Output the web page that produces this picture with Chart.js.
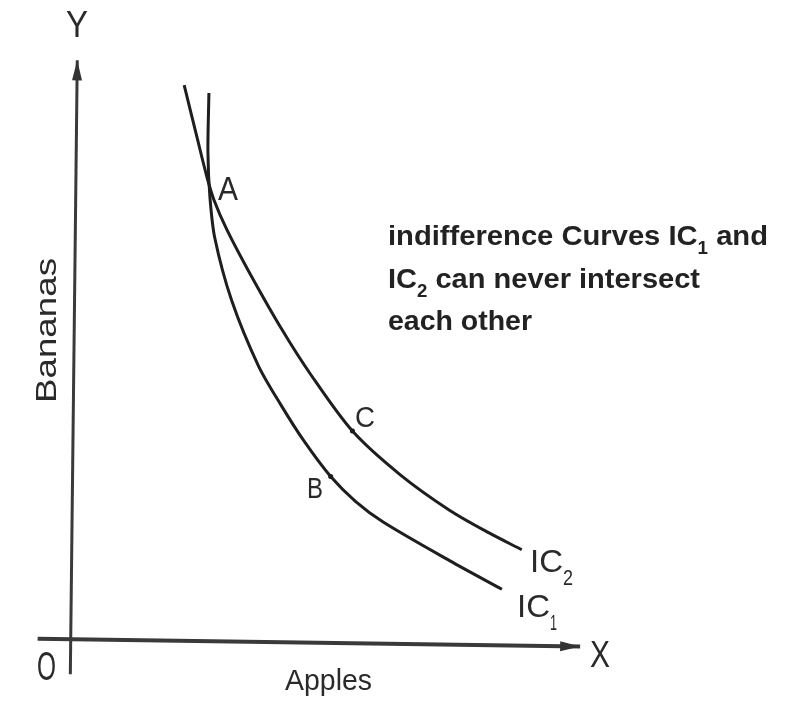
<!DOCTYPE html>
<html>
<head>
<meta charset="utf-8">
<script src="https://cdn.jsdelivr.net/npm/chart.js@4.4.1/dist/chart.umd.min.js"></script>
<style>
  body { margin: 0; background: #fff; }
  #wrap { width: 795px; height: 703px; position: relative; }
</style>
</head>
<body>
<div id="wrap"><canvas id="chart"></canvas></div>
<script>
// Coordenadas (origem em O, y para cima)
const ic1X = [139, 138, 140, 145, 162, 189, 212, 235, 262, 287, 315, 382, 435];
const ic1Y = [555, 495, 450, 408, 345, 279, 239, 203, 167, 142, 121, 82, 53];
const ic2X = [114, 127, 137, 144, 157, 179, 212, 242, 284, 332, 382, 422, 455];
const ic2Y = [563, 510, 470, 447, 417, 375, 317, 270, 213, 169, 133, 110, 93];

// Pontos marcados B e C
const pointX = [262, 284];
const pointY = [167, 213];

// Eixos (inicio e fim)
const xAxisX = [-34, 514];
const xAxisY = [3, -5];
const yAxisX = [-1, 6];
const yAxisY = [-33, 588];

const toXY = (xs, ys) => xs.map((x, i) => ({ x: x, y: ys[i] }));

function fitText(ctx, text, left, baseline, size, width, weight) {
  ctx.save();
  ctx.font = (weight || 'normal') + ' ' + size + 'px "Liberation Sans", Arial, sans-serif';
  const w = ctx.measureText(text).width;
  ctx.translate(left, baseline);
  ctx.scale(width / w, 1);
  ctx.textAlign = 'left';
  ctx.textBaseline = 'alphabetic';
  ctx.fillText(text, 0, 0);
  ctx.restore();
}

function arrowHead(ctx, from, to, len, half) {
  const ang = Math.atan2(to.y - from.y, to.x - from.x);
  ctx.save();
  ctx.translate(to.x, to.y);
  ctx.rotate(ang);
  ctx.beginPath();
  ctx.moveTo(0, 0);
  ctx.lineTo(-len, -half);
  ctx.lineTo(-len, half);
  ctx.closePath();
  ctx.fill();
  ctx.restore();
}

const labelsPlugin = {
  id: 'labels',
  afterDatasetsDraw(chart) {
    const ctx = chart.ctx;

    // pontas de seta nos eixos
    const xs = chart.getDatasetMeta(0).data;
    const ys = chart.getDatasetMeta(1).data;
    ctx.fillStyle = '#333';
    arrowHead(ctx, xs[0], xs[1], 20, 5);
    arrowHead(ctx, ys[0], ys[1], 20, 5);

    ctx.fillStyle = '#2a2a2a';
    // letras dos eixos
    fitText(ctx, 'Y', 66, 37, 37, 22);
    fitText(ctx, 'X', 590, 667, 37, 20);
    fitText(ctx, 'O', 37, 680, 40, 19);
    fitText(ctx, 'Apples', 285, 690, 30, 87);

    ctx.save();
    ctx.translate(56, 403);
    ctx.rotate(-Math.PI / 2);
    fitText(ctx, 'Bananas', 0, 0, 30, 145);
    ctx.restore();

    // nomes dos pontos
    fitText(ctx, 'A', 218, 200, 34, 20);
    fitText(ctx, 'B', 307, 498, 29, 16);
    fitText(ctx, 'C', 355, 427, 30, 20);

    // nomes das curvas
    fitText(ctx, 'IC', 530, 572, 32, 33);
    fitText(ctx, '2', 563, 585, 22, 10);
    fitText(ctx, 'IC', 517, 617, 32, 33);
    fitText(ctx, '1', 550, 630, 22, 7);

    // texto explicativo
    ctx.fillStyle = '#222';
    const subFont = 'bold 18px "Liberation Sans", Arial, sans-serif';
    const mainFont = 'bold 28px "Liberation Sans", Arial, sans-serif';
    function segs(list, left, baseline, width) {
      let total = 0;
      list.forEach(s => { ctx.font = s[1] ? subFont : mainFont; total += ctx.measureText(s[0]).width; });
      const k = width / total;
      ctx.save();
      ctx.translate(left, baseline);
      ctx.scale(k, 1);
      let x = 0;
      list.forEach(s => {
        ctx.font = s[1] ? subFont : mainFont;
        ctx.fillText(s[0], x, s[1] ? 9 : 0);
        x += ctx.measureText(s[0]).width;
      });
      ctx.restore();
    }
    segs([['indifference Curves IC', 0], ['1', 1], [' and', 0]], 388, 245, 380);
    segs([['IC', 0], ['2', 1], [' can never intersect', 0]], 388, 288, 312);
    segs([['each other', 0]], 388, 330, 144);
  }
};

new Chart(document.getElementById('chart'), {
  type: 'scatter',
  data: {
    datasets: [
      { data: toXY(xAxisX, xAxisY), showLine: true, borderColor: '#3a3a3a', borderWidth: 4, pointRadius: 0 },
      { data: toXY(yAxisX, yAxisY), showLine: true, borderColor: '#3a3a3a', borderWidth: 3, pointRadius: 0 },
      { label: 'IC1', data: toXY(ic1X, ic1Y), showLine: true, tension: 0.3, borderColor: '#1e1e1e', borderWidth: 3, pointRadius: 0 },
      { label: 'IC2', data: toXY(ic2X, ic2Y), showLine: true, tension: 0.3, borderColor: '#1e1e1e', borderWidth: 3, pointRadius: 0 },
      { label: 'pontos', data: toXY(pointX, pointY), showLine: false, pointRadius: 2.5, backgroundColor: '#111', borderWidth: 0 }
    ]
  },
  options: {
    responsive: true,
    maintainAspectRatio: false,
    animation: false,
    layout: { padding: 0 },
    plugins: { legend: { display: false }, tooltip: { enabled: false } },
    scales: {
      x: { type: 'linear', min: -68, max: 727, display: false },
      y: { type: 'linear', min: -58, max: 645, display: false }
    }
  },
  plugins: [labelsPlugin]
});
</script>
</body>
</html>
